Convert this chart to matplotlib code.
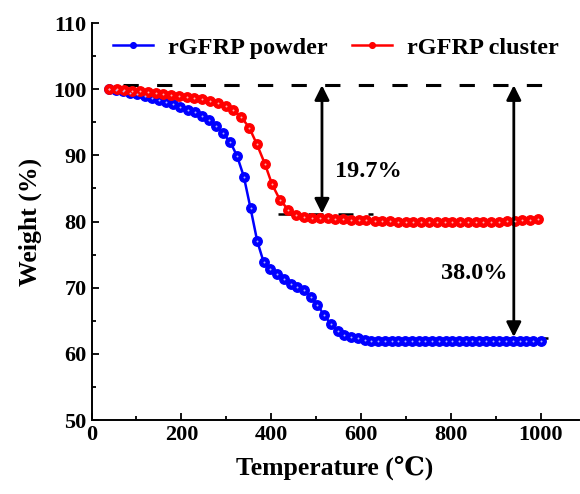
import matplotlib
matplotlib.use("Agg")
import matplotlib.pyplot as plt
from matplotlib.ticker import MultipleLocator

plt.rcParams['font.family'] = ['Liberation Serif', 'DejaVu Serif']
plt.rcParams['font.weight'] = 'bold'

# rGFRP powder (blue)
powder_T = [38, 54, 70, 86, 102, 118, 134, 150, 166, 182, 198, 214, 230, 246,
            262, 278, 293, 309, 324, 339, 354, 369, 383, 398, 413, 428, 443,
            458, 473, 488, 503, 518, 533, 548, 563, 578, 593, 608, 623, 638,
            653, 668, 683, 698, 713, 728, 743, 758, 773, 788, 803, 818, 833,
            848, 863, 878, 893, 908, 923, 938, 953, 968, 983, 1000]
powder_W = [100.0, 99.9, 99.7, 99.45, 99.25, 98.95, 98.7, 98.35, 98.1, 97.7,
            97.3, 96.9, 96.55, 96.0, 95.35, 94.4, 93.3, 92.0, 89.9, 86.8,
            82.0, 77.0, 73.9, 72.8, 72.0, 71.3, 70.6, 70.1, 69.6, 68.6,
            67.4, 65.8, 64.5, 63.4, 62.9, 62.6, 62.35, 62.1, 62.0, 62.0,
            61.98, 61.97, 61.97, 61.96, 61.96, 61.95, 61.95, 61.95, 61.95, 61.95,
            61.95, 61.95, 61.95, 61.95, 61.95, 61.95, 61.95, 61.95, 61.95, 61.96,
            61.96, 61.97, 61.98, 62.0]

# rGFRP cluster (red)
cluster_T = [38, 56, 73, 91, 108, 125, 143, 160, 177, 195, 212, 229, 247, 264,
             281, 299, 316, 333, 351, 368, 386, 402, 420, 438, 456, 472, 490,
             509, 526, 543, 560, 578, 595, 612, 630, 647, 664, 682, 699, 716,
             734, 751, 768, 786, 803, 820, 838, 855, 872, 890, 907, 924, 942,
             959, 976, 994]
cluster_W = [100.0, 99.95, 99.85, 99.75, 99.7, 99.55, 99.35, 99.25, 99.1, 98.95,
             98.85, 98.7, 98.5, 98.2, 97.9, 97.5, 96.8, 95.8, 94.2, 91.7,
             88.7, 85.6, 83.2, 81.8, 81.0, 80.7, 80.6, 80.55, 80.5, 80.4,
             80.35, 80.3, 80.25, 80.2, 80.15, 80.1, 80.05, 80.0, 79.98, 79.95,
             79.93, 79.92, 79.9, 79.9, 79.9, 79.9, 79.9, 79.9, 79.92, 79.95,
             80.0, 80.05, 80.12, 80.2, 80.3, 80.38]

initial_level = 100.6
cluster_level = 81.2
powder_level = 62.35
cluster_loss = "19.7%"
powder_loss = "38.0%"

fig = plt.figure(figsize=(5.8, 4.94), dpi=100)
ax = fig.add_axes([91.5 / 580, 74 / 494, 487 / 580, 397 / 494])

ax.plot(powder_T, powder_W, color='#0000ff', lw=1.8, marker='o', ms=6.8,
        mec='#0000ff', mfc='#0000ff', label='rGFRP powder', zorder=3)
ax.plot(powder_T, powder_W, ls='none', marker='o', ms=1.4, mfc='#b0b0ff',
        mec='none', zorder=4)
ax.plot(cluster_T, cluster_W, color='#ff0000', lw=1.8, marker='o', ms=6.8,
        mec='#ff0000', mfc='#ff0000', label='rGFRP cluster', zorder=3)
ax.plot(cluster_T, cluster_W, ls='none', marker='o', ms=1.4, mfc='#ffb0b0',
        mec='none', zorder=4)

# reference lines
ax.plot([71, 1012], [initial_level, initial_level], color='black', lw=2.2,
        dashes=(5, 6))
ax.plot([415, 627], [cluster_level, cluster_level], color='black', lw=1.8,
        dashes=(6, 6))
ax.plot([861, 1017], [powder_level, powder_level], color='black', lw=1.8,
        dashes=(6, 6))

arrow = dict(arrowstyle='<|-|>', color='black', lw=2.0, mutation_scale=22,
             shrinkA=0, shrinkB=0)
ax.annotate('', xy=(513, cluster_level), xytext=(513, initial_level),
            arrowprops=arrow)
ax.annotate('', xy=(940, powder_level + 0.2), xytext=(940, initial_level),
            arrowprops=arrow)
ax.text(541, 87.5, cluster_loss, fontsize=17.5, fontweight='bold',
        ha='left', va='center')
ax.text(927, 72.2, powder_loss, fontsize=17.5, fontweight='bold',
        ha='right', va='center')

ax.set_xlim(0, 1084)
ax.set_ylim(50, 110)
ax.xaxis.set_major_locator(MultipleLocator(200))
ax.xaxis.set_minor_locator(MultipleLocator(100))
ax.yaxis.set_major_locator(MultipleLocator(10))
ax.yaxis.set_minor_locator(MultipleLocator(5))
ax.tick_params(which='both', direction='in', width=1.3, labelsize=16)
ax.tick_params(which='major', length=5)
ax.tick_params(which='minor', length=3)
ax.spines['top'].set_visible(False)
ax.spines['right'].set_visible(False)
for s in ['left', 'bottom']:
    ax.spines[s].set_linewidth(1.4)
for lab in ax.get_xticklabels() + ax.get_yticklabels():
    lab.set_fontweight('bold')

ax.set_xlabel('Temperature (\u2103)', fontsize=18.5, fontweight='bold', labelpad=8)
ax.set_ylabel('Weight (%)', fontsize=18.5, fontweight='bold', labelpad=8)

ax.legend(loc='upper left', bbox_to_anchor=(0.0, 1.02), ncol=2, frameon=False,
          handlelength=1.65, columnspacing=1.0, handletextpad=0.6,
          markerscale=0.6, prop={'weight': 'bold', 'size': 17.5})

fig.savefig('out.png', dpi=100)
